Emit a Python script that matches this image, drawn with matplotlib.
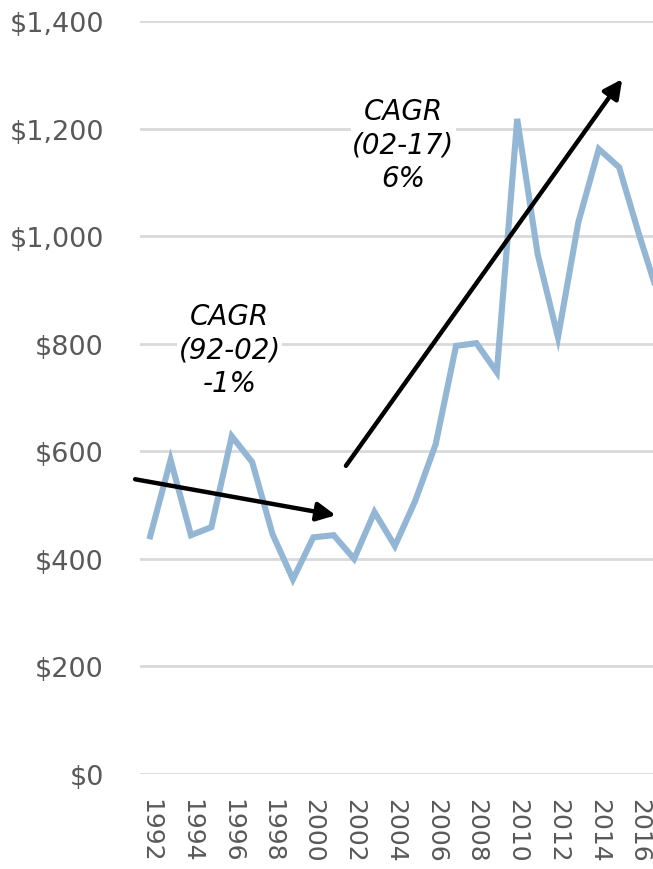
import numpy as np
import matplotlib.pyplot as plt

# values
years = list(range(1992, 2018))
values = [442, 584, 444, 459, 628, 580, 446, 362, 440, 444, 400, 487, 424, 508,
          613, 796, 801, 747, 1218, 967, 812, 1026, 1162, 1128, 1000, 880]

y_ticks = [0, 200, 400, 600, 800, 1000, 1200, 1400]
x_ticks = list(range(1992, 2017, 2))

# CAGR annotations: (text, x, y)
notes = [("CAGR\n(92-02)\n-1%", 1995.9, 790),
         ("CAGR\n(02-17)\n6%", 2004.4, 1171)]
# trend arrows: (tail, tip)
arrows = [((1991.26, 548), (2001.1, 481)),
          ((2001.6, 573), (2015.15, 1292))]

plt.rcParams['font.family'] = ['DejaVu Sans']
fig = plt.figure(figsize=(6.53, 8.70), dpi=100)
ax = fig.add_axes([140 / 653, 1 - 775 / 870, 1 - 140 / 653, (775 - 22) / 870])

ax.plot(years, values, color='#94b6d5', lw=4.4, solid_joinstyle='miter', zorder=3)

for tail, tip in arrows:
    ax.annotate('', xy=tip, xytext=tail,
                arrowprops=dict(arrowstyle='-|>', color='black', lw=3.2,
                                mutation_scale=28, shrinkA=0, shrinkB=0),
                zorder=4)

for txt, x, y in notes:
    ax.text(x, y, txt, ha='center', va='center', fontsize=20, style='italic',
            linespacing=1.25, color='black', zorder=5,
            bbox=dict(facecolor='white', edgecolor='none', pad=1))

ax.set_ylim(0, 1400)
ax.set_xlim(1991.5, 2016.66)
ax.set_yticks(y_ticks)
ax.set_yticklabels(['${:,}'.format(v) for v in y_ticks])
ax.set_xticks(x_ticks)
ax.set_xticklabels([str(x) for x in x_ticks], rotation=-90)
ax.tick_params(axis='y', length=0, pad=26, labelsize=19.5, labelcolor='#595959')
ax.tick_params(axis='x', length=0, pad=17, labelsize=18, labelcolor='#595959')
ax.grid(axis='y', color='#d9d9d9', lw=2)
ax.set_axisbelow(True)
for s in ax.spines.values():
    s.set_visible(False)

fig.savefig('out.png', dpi=100)
